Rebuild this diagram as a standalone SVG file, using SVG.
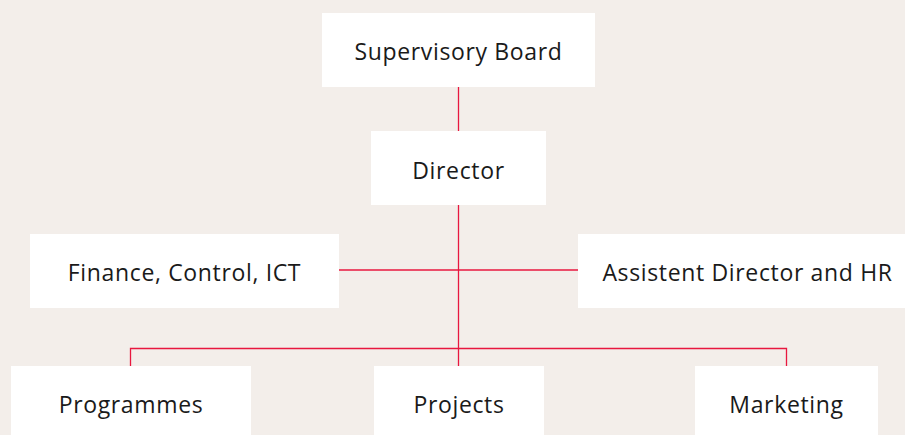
<svg xmlns="http://www.w3.org/2000/svg" width="905" height="435" viewBox="0 0 905 435">
<style>
.box{fill:#ffffff}
.lbl{font-family:"Open Sans","Liberation Sans",sans-serif;font-size:23px;letter-spacing:0.65px;fill:#1a1a1a;text-anchor:middle}
.con{stroke:#e8173f;stroke-width:1.3;fill:none}
</style>
<rect width="905" height="435" fill="#f3eeea"/>
<g id="connectors">
<line class="con" x1="458.5" y1="87" x2="458.5" y2="131"/>
<line class="con" x1="458.5" y1="205" x2="458.5" y2="366"/>
<line class="con" x1="339" y1="270" x2="578" y2="270"/>
<polyline class="con" points="130.5,366 130.5,348.5 786.5,348.5 786.5,366"/>
</g>
<g id="supervisory-board"><rect class="box" x="322" y="13" width="273" height="74"/><text class="lbl" x="458.5" y="59.5">Supervisory Board</text></g>
<g id="director"><rect class="box" x="371" y="131" width="175" height="74"/><text class="lbl" x="458.5" y="178.5">Director</text></g>
<g id="finance"><rect class="box" x="30" y="234" width="309" height="74"/><text class="lbl" x="184.5" y="280.5">Finance, Control, ICT</text></g>
<g id="assistent"><rect class="box" x="578" y="234" width="340" height="74"/><text class="lbl" x="747.5" y="280.5">Assistent Director and HR</text></g>
<g id="programmes"><rect class="box" x="11" y="366" width="240" height="74"/><text class="lbl" x="131" y="413">Programmes</text></g>
<g id="projects"><rect class="box" x="374" y="366" width="170" height="74"/><text class="lbl" x="459" y="413">Projects</text></g>
<g id="marketing"><rect class="box" x="695" y="366" width="183" height="74"/><text class="lbl" x="786.5" y="413">Marketing</text></g>
</svg>
